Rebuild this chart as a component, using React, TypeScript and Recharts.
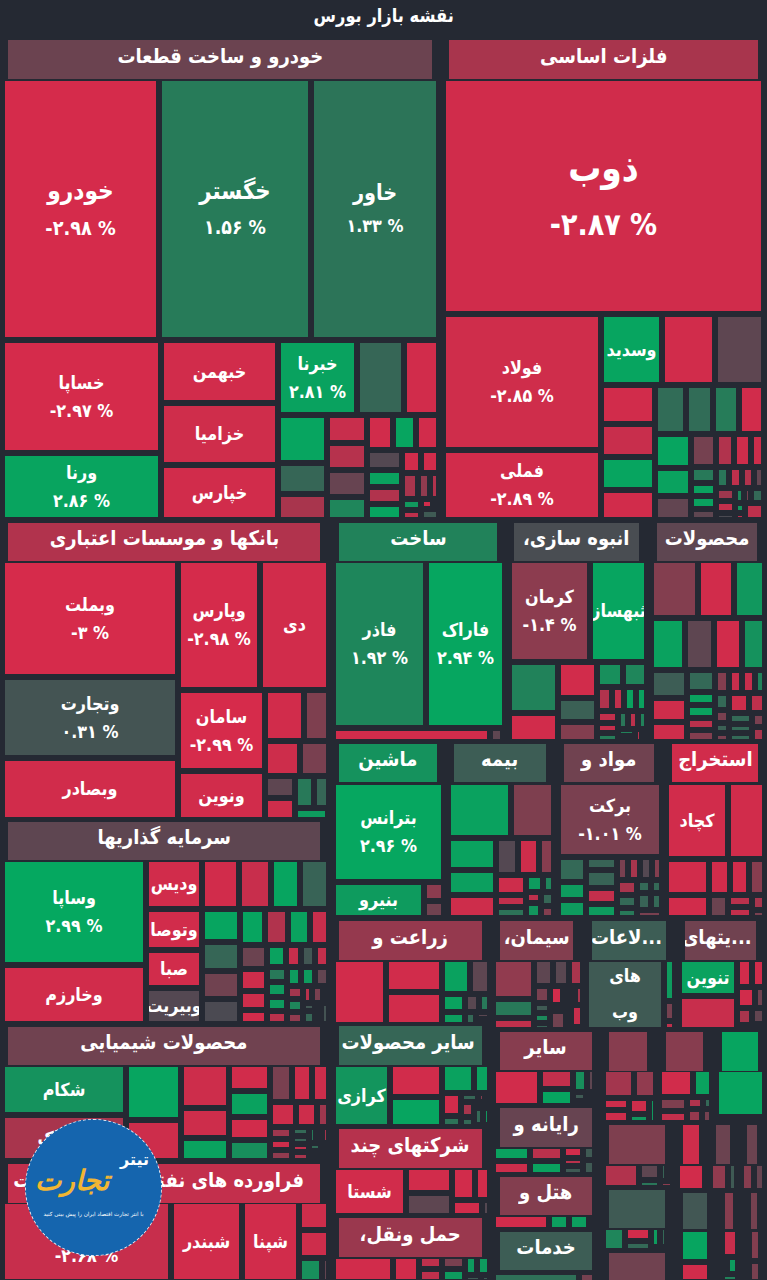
import React from 'react';
import { Treemap } from 'recharts';

const autoNames = ['خودرو', 'خگستر', 'خاور', 'خساپا', 'ورنا', 'خبهمن', 'خزامیا', 'خپارس', 'خبرنا'];
const autoValues = [41134, 39824, 33536, 17967, 10653, 7371, 7254, 6435, 5920, 3552, 2664, 2352, 1519, 1323, 1120, 1080, 1080, 960, 918, 816, 782, 714, 612, 612, 510, 441, 399, 425, 300, 250, 209, 180, 120, 60, 40];
const autoChanges = [-2.98, 1.56, 1.33, -2.97, 2.86, -2.9, -2.85, -2.9, 2.81, 0.9, -2.9, 2.9, 0.9, -2, -2.7, -2.3, -0.6, 1.9, -2.9, 2.9, -2.9, -0.2, 2.8, -2.2, 2.9, -2.9, -2.9, -2, -1.5, -2.2, 2.5, -2.5, -2.9, 1.2, 0.5];

const metalNames = ['ذوب', 'فولاد', 'فملی', 'وسدید'];
const metalValues = [75756, 21488, 11060, 4340, 3780, 3360, 2106, 1782, 1782, 1674, 1519, 1323, 1274, 1225, 1215, 990, 900, 810, 589, 558, 465, 403, 336, 315, 273, 273, 264, 242, 242, 242, 224, 154, 140, 112, 190, 100, 70, 50];
const metalChanges = [-2.87, -2.85, -2.89, 2.9, -2.9, -0.4, -2.9, -2.7, 2.9, -2.9, 1.1, 1.1, 1.6, -2.9, 2.9, 2.8, -0.5, -0.9, -2.2, -2.8, -2.8, 1.5, 2.8, 2.8, -0.4, 1.4, -2.5, -2.2, -0.5, -1.8, -2.6, 0, 2, -1, 1, 2.5, -2.5, -2.5];

const bankNames = ['وبملت', 'وتجارت', 'وبصادر', 'وپارس', 'دی', 'سامان', 'ونوین'];
const bankValues = [20592, 14256, 10912, 10707, 8901, 7047, 4350, 2000, 1250, 1225, 1050, 667, 667, 600, 480, 400, 120];
const bankChanges = [-3, 0.31, -2.9, -2.98, -2.9, -2.99, -2.9, -2.9, -1.1, -2.8, -1, -0.4, -2.8, 1.5, 0.9, 2.6, -2.4];

const investNames = ['وساپا', 'وخارزم', 'ودیس', 'وتوصا', 'صبا', 'وبیریت'];
const investValues = [15158, 8437, 2750, 2255, 2090, 2035, 1824, 1584, 1440, 1392, 1232, 1100, 1056, 924, 880, 805, 788, 735, 630, 594, 513, 405, 405, 324, 315, 336, 294, 294, 286, 264, 264, 264, 242, 210, 210, 170, 150, 182, 117, 100, 150, 130, 90];
const investChanges = [2.99, -2.9, -2.9, -2.9, -2.9, -0.2, -2.9, -2.7, 2.9, 0.8, 2.9, 0.9, -0.8, 0, 2.9, -2.2, 2.8, -2.7, -0.7, -2.8, -2.8, -2.9, 2.8, -2.7, 0.4, -2.6, 1.5, 2.6, 2.6, -2.4, 2.6, 2.6, -0.5, -1.9, 1.9, -1.5, -2.4, -1, 0.5, 0.4, 0.9, 1.5, 0.3];

const chemNames = ['شکام', 'شاراک'];
const chemValues = [6273, 5658, 3024, 2214, 2068, 1410, 1128, 1080, 1040, 920, 920, 816, 748, 680, 648, 513, 324, 270, 247, 209, 152, 133, 140, 130, 105, 100, 110, 90, 60, 60, 50, 50];
const chemChanges = [2.3, -2, 2.9, -2.8, -2.8, -2.8, 2.8, -2.9, 2.8, -2.9, 2.2, -1, -2.8, -2.8, -2.8, -2.8, -1.8, -1.8, -2.8, -1.5, 1, 0.8, -2.5, -2, 1.5, -2, -2, 1, -2.5, -2, -2, 1.5];

const oilNames = ['شبریز', 'شبندر', 'شپنا'];
const oilValues = [13608, 5670, 4617, 864, 832, 546, 150];
const oilChanges = [-2.68, -2.9, -2.9, -2.8, -2.8, 2.2, -0.5];

const buildNames = ['فاذر', 'فاراک'];
const buildValues = [15531, 13193, 2190, 180, 100];
const buildChanges = [1.92, 2.94, -2.9, -0.4, -0.5];

const massNames = ['کرمان', 'ثبهساز'];
const massValues = [8100, 5700, 2470, 1425, 1368, 912, 798, 638, 609, 348, 294, 273, 273, 252, 198, 198, 180, 180, 150, 120, 100, 90, 60];
const massChanges = [-1.4, 2.9, 1.8, -2.9, -2.9, 0.7, -1.2, 2.2, 1.9, -2.2, -2.6, 2.8, 2.8, -2.6, -2.7, 1.6, 1.4, -2.4, 1.8, 1.8, 2.8, -2.4, -2.5];

const productValues = [2726, 2088, 1798, 1768, 1508, 1456, 1196, 1008, 864, 720, 616, 364, 364, 336, 336, 322, 299, 299, 230, 238, 182, 140, 130, 400, 300, 250, 200, 220, 180, 100];
const productChanges = [-1.2, -2.9, 2.5, 2.8, -0.4, -2.9, 2.3, 0.6, -2.8, -2.8, 1, 2.8, 2.8, -2.4, -1.2, -1.2, -2.7, -2.7, 1.8, 1, -1, 0.7, -1, -2.8, -2.5, 1, 1, 1, -1, -2];

const machineNames = ['بترانس', 'بنیرو'];
const machineValues = [11100, 3276, 380, 340];
const machineChanges = [2.96, 2.6, -1.4, -0.8];

const insureValues = [3300, 2310, 1452, 1134, 1029, 756, 744, 496, 558, 341, 308, 266, 182, 154, 200, 170, 110];
const insureChanges = [2.8, -1.1, 2.8, 2.7, -2.8, -0.2, -2.8, -1.3, -2.8, -2.6, 1.3, 2.6, 1.9, -2.5, 2.4, 0.9, -1.2];

const materialNames = ['برکت'];
const materialValues = [7696, 680, 493, 544, 400, 560, 476, 448, 260, 266, 266, 247, 300, 250, 220, 180, 130, 240, 190, 150];
const materialChanges = [-1.01, 1, 2.6, 2.6, 0.8, 0.8, -2.6, 2.6, -1, -2, -0.2, -1.2, -2, 1, 1.5, 1, 1, 0.8, 1, -1];

const mineNames = ['کچاد'];
const mineValues = [4774, 2849, 1548, 989, 756, 684, 576, 450, 300, 250, 200, 150];
const mineChanges = [-2.9, -2.9, -2.9, -2.9, -2.9, -2.9, -1.3, -0.7, -2.4, -2.6, -2, -1];

const farmValues = [3400, 1815, 1815, 957, 693, 399, 294, 252, 180, 144, 100, 60];
const farmChanges = [-2.9, -2.9, -2.9, 2.8, -0.4, 2.8, 2.7, -0.3, 1.5, 1, -0.3, -0.3];

const cementValues = [1588, 754, 476, 490, 425, 362, 266, 154, 154, 120, 247, 120, 120, 120, 100, 280, 110, 260, 90];
const cementChanges = [-1.5, 1.5, -2.5, -0.4, -0.3, -2, -1, 0.5, 2, 0.8, -2.9, -1.2, -2, -2, -1.5, -0.8, -2, -2.7, -2];

const infoNames = ['های وب'];
const infoValues = [5467, 451, 220, 88];
const infoChanges = [0.5, 2.6, -0.9, -2.5];

const activityNames = ['تنوین'];
const activityValues = [2072, 1904, 398, 372, 361, 209, 240, 90, 200, 70];
const activityChanges = [2.8, -2.7, -2.9, -2.9, -2.9, -0.8, -2, 1.6, -0.5, -0.4];

const otherProductNames = ['کرازی'];
const otherProductValues = [3528, 1667, 1515, 910, 438, 428, 200, 150, 60, 50, 190, 130, 50, 40, 150, 120, 40];
const otherProductChanges = [2.4, -2.9, 2.9, 2.8, 2.8, -2.9, 1.3, 0.9, -1.2, -2, -2, 1, -2, -1, 1, 2.5, -2];

const holdingNames = ['شستا'];
const holdingValues = [3577, 1196, 1058, 768, 480, 476, 187];
const holdingChanges = [-2.9, -2.9, -0.4, -2.9, -2.9, -2.9, -0.2];

const transportValues = [1344, 576, 264, 264, 264, 264, 204, 204, 100, 60];
const transportChanges = [-2.9, -2.9, -2.5, -2.5, -1, 2.6, 2.6, 2.6, 0.5, 0.5];

const otherValues = [1720, 650, 552, 324, 180, 110, 70, 40, 70];
const otherChanges = [-2.9, -2.6, 2.9, 2.2, -0.4, 0.5, -2, 1, 1];

const computerValues = [555, 518, 495, 462, 247, 156, 170, 170, 170];
const computerChanges = [2.8, -2.8, -2.4, 2.8, -2.9, -2.4, 0.5, 0.5, 0.5];

const hotelValues = [896, 320, 320, 60, 40];
const hotelChanges = [-2.9, 2.7, 2.7, -2, -1];

const serviceValues = [1032, 192];
const serviceChanges = [1.2, -0.9];

const miniAValues = [868, 616, 312, 312, 304, 190, 180];
const miniAChanges = [-1.9, -1.5, -2.8, -2.8, -2.8, 2.5, 2.5];
const miniBValues = [891, 495, 363, 325, 182, 104, 200, 110];
const miniBChanges = [-2.9, 2.8, -1.1, -2.6, -2.2, 1, -1.6, -0.9];
const miniCValues = [2058];
const miniCChanges = [2.9];
const miniDValues = [800, 323, 136, 110, 95, 90];
const miniDChanges = [-2.2, -0.4, 1.4, 0.8, -0.9, -1.4];
const miniEValues = [784];
const miniEChanges = [-2.9];
const miniFValues = [532, 252];
const miniFChanges = [-1.5, 0.5];
const miniGValues = [392, 308];
const miniGChanges = [-1.3, -0.6];
const miniHValues = [504, 360, 240, 169, 143, 60];
const miniHChanges = [1.9, -2.9, 1, 2.6, 1, 1.5];
const miniIValues = [990, 600];
const miniIChanges = [2.9, -2.9];
const miniJValues = [528, 100, 224, 140];
const miniJChanges = [-2.7, 2, 2.6, 1.8];
const miniKValues = [396, 250];
const miniKChanges = [-1.2, -1];

const rows = (values: number[], changes: number[], names: string[] = []) =>
  values.map((value, i) => ({ name: names[i] ?? '', value, change: changes[i] }));

const FONT = "'DejaVu Sans', sans-serif";
const GAP = 3;
const BG = '#252933';
const SQUEEZE = 0.88;

const mix = (a: number[], b: number[], t: number) =>
  `rgb(${a.map((v, i) => Math.round(v + (b[i] - v) * t)).join(',')})`;
const colorOf = (c: number) =>
  c < 0
    ? mix([75, 74, 82], [214, 43, 75], Math.min(-c / 3, 1))
    : mix([75, 74, 82], [5, 168, 96], Math.min(c / 3, 1));

const FA = '۰۱۲۳۴۵۶۷۸۹';
const faNum = (c: number) => String(c).replace(/\d/g, (d) => FA[+d]);

const nameFont = (s: number) => {
  if (s < 150) return 16;
  if (s < 195) return 16 + ((s - 150) / 45) * 5.5;
  return Math.min(21.5 + ((s - 195) / 74) * 11.5, 33);
};
const pctFont = (s: number) => {
  if (s < 177) return 16;
  if (s < 195) return 16 + ((s - 177) / 18) * 1.5;
  return Math.min(17.5 + ((s - 195) / 74) * 9.5, 27);
};

const Label = ({ x, y, size, text, ltr }: any) => (
  <text
    transform={`translate(${x} ${y}) scale(${SQUEEZE} 1)`}
    textAnchor="middle"
    dominantBaseline="central"
    fill="#fff"
    fontFamily={FONT}
    fontWeight={700}
    fontSize={size / SQUEEZE}
    direction={ltr ? 'ltr' : 'rtl'}
    unicodeBidi={ltr ? 'bidi-override' : undefined}
  >
    {text}
  </text>
);

const Cell = (props: any) => {
  const { x, y, width, height, depth, name, change } = props;
  if (depth !== 1) return null;
  const w = width - GAP * 2;
  const h = height - GAP * 2;
  if (w <= 0 || h <= 0) return null;
  const s = Math.sqrt(w * h);
  const fs = nameFont(s);
  const showPct = !!name && h >= 60 && w >= 70 && !name.includes(' ');
  const cx = w / 2;
  const cy = h / 2;
  const off = fs * 0.87;
  const lines: string[] = name ? String(name).split(' ') : [];
  return (
    <svg x={x + GAP} y={y + GAP} width={w} height={h} style={{ overflow: 'hidden' }}>
      <rect x={0} y={0} width={w} height={h} fill={colorOf(change)} />
      {lines.map((l, i) => (
        <Label
          key={i}
          x={cx}
          y={lines.length > 1 ? cy - 1 + (i === 0 ? -18 : 18) : showPct ? cy - off : cy}
          size={fs}
          text={l}
        />
      ))}
      {showPct && <Label x={cx} y={cy + off} size={pctFont(s)} text={`${faNum(change)} %`} ltr />}
    </svg>
  );
};

type Panel = { title?: string; tone: number; head: number[]; box?: number[]; data?: any[] };

const panels: Panel[] = [
  { title: 'خودرو و ساخت قطعات', tone: -0.7, head: [8, 40, 424, 39], box: [2, 78, 437, 442], data: rows(autoValues, autoChanges, autoNames) },
  { title: 'فلزات اساسی', tone: -2, head: [449, 40, 309, 39], box: [443, 78, 321, 442], data: rows(metalValues, metalChanges, metalNames) },
  { title: 'بانکها و موسسات اعتباری', tone: -2.2, head: [8, 523, 312, 38], box: [2, 560, 327, 260], data: rows(bankValues, bankChanges, bankNames) },
  { title: 'سرمایه گذاریها', tone: -0.4, head: [8, 822, 312, 38], box: [2, 859, 327, 165], data: rows(investValues, investChanges, investNames) },
  { title: 'محصولات شیمیایی', tone: -0.8, head: [8, 1027, 312, 38], box: [2, 1064, 327, 97], data: rows(chemValues, chemChanges, chemNames) },
  { title: 'فراورده های نفتی، کک و سوخت', tone: -2.6, head: [8, 1164, 312, 39], box: [2, 1201, 327, 81], data: rows(oilValues, oilChanges, oilNames) },
  { title: 'ساخت', tone: 1.8, head: [339, 523, 158, 38], box: [333, 560, 172, 182], data: rows(buildValues, buildChanges, buildNames) },
  { title: 'انبوه سازی،', tone: 0.1, head: [514, 523, 125, 38], box: [509, 560, 138, 182], data: rows(massValues, massChanges, massNames) },
  { title: 'محصولات', tone: -0.4, head: [657, 523, 100, 38], box: [651, 560, 114, 182], data: rows(productValues, productChanges) },
  { title: 'ماشین', tone: 2.3, head: [339, 744, 98, 38], box: [333, 782, 111, 136], data: rows(machineValues, machineChanges, machineNames) },
  { title: 'بیمه', tone: 0.6, head: [454, 744, 92, 38], box: [448, 782, 106, 136], data: rows(insureValues, insureChanges) },
  { title: 'مواد و', tone: -0.8, head: [564, 744, 90, 38], box: [558, 782, 104, 136], data: rows(materialValues, materialChanges, materialNames) },
  { title: 'استخراج', tone: -2.9, head: [672, 744, 86, 38], box: [666, 782, 99, 136], data: rows(mineValues, mineChanges, mineNames) },
  { title: 'زراعت و', tone: -1.6, head: [339, 921, 143, 39], box: [333, 959, 157, 66], data: rows(farmValues, farmChanges) },
  { title: 'سیمان،', tone: -1.2, head: [500, 921, 73, 39], box: [493, 959, 90, 71], data: rows(cementValues, cementChanges) },
  { title: '...لاعات', tone: 0.6, head: [592, 921, 74, 39], box: [586, 959, 89, 71], data: rows(infoValues, infoChanges, infoNames) },
  { title: '...یتهای', tone: -0.8, head: [685, 921, 71, 39], box: [679, 959, 86, 71], data: rows(activityValues, activityChanges, activityNames) },
  { title: 'سایر محصولات', tone: 0.9, head: [339, 1026, 143, 39], box: [333, 1064, 157, 63], data: rows(otherProductValues, otherProductChanges, otherProductNames) },
  { title: 'شرکتهای چند', tone: -2.3, head: [339, 1129, 143, 39], box: [333, 1167, 157, 49], data: rows(holdingValues, holdingChanges, holdingNames) },
  { title: 'حمل ونقل،', tone: -1.7, head: [339, 1218, 143, 39], box: [333, 1256, 157, 26], data: rows(transportValues, transportChanges) },
  { title: 'سایر', tone: -1.3, head: [500, 1032, 92, 38], box: [493, 1069, 102, 37], data: rows(otherValues, otherChanges) },
  { title: 'رایانه و', tone: -0.6, head: [500, 1108, 92, 39], box: [493, 1146, 102, 29], data: rows(computerValues, computerChanges) },
  { title: 'هتل و', tone: -1.2, head: [500, 1177, 92, 38], box: [493, 1214, 102, 16], data: rows(hotelValues, hotelChanges) },
  { title: 'خدمات', tone: 0.6, head: [500, 1232, 92, 38], box: [493, 1270, 102, 12], data: rows(serviceValues, serviceChanges) },
  { tone: -1.3, head: [609, 1032, 38, 39], box: [603, 1069, 53, 54], data: rows(miniAValues, miniAChanges) },
  { tone: -1.3, head: [666, 1032, 37, 39], box: [659, 1069, 53, 54], data: rows(miniBValues, miniBChanges) },
  { tone: 2.9, head: [722, 1032, 36, 39], box: [716, 1069, 49, 48], data: rows(miniCValues, miniCChanges) },
  { tone: -1.1, head: [609, 1125, 56, 39], box: [603, 1163, 70, 25], data: rows(miniDValues, miniDChanges) },
  { tone: -2.8, head: [683, 1125, 16, 39], box: [677, 1163, 28, 28], data: rows(miniEValues, miniEChanges) },
  { tone: -0.7, head: [716, 1125, 14, 39], box: [710, 1163, 27, 28], data: rows(miniFValues, miniFChanges) },
  { tone: -0.7, head: [747, 1125, 10, 39], box: [741, 1163, 24, 28], data: rows(miniGValues, miniGChanges) },
  { tone: 0.5, head: [609, 1190, 56, 38], box: [603, 1227, 64, 24], data: rows(miniHValues, miniHChanges) },
  { tone: 0.4, head: [683, 1193, 24, 36], box: [680, 1229, 30, 53], data: rows(miniIValues, miniIChanges) },
  { tone: -1.3, head: [725, 1193, 8, 36], box: [722, 1229, 16, 53], data: rows(miniJValues, miniJChanges) },
  { tone: -0.9, head: [751, 1193, 6, 36], box: [749, 1229, 12, 53], data: rows(miniKValues, miniKChanges) },
  { tone: -0.8, head: [609, 1253, 56, 27] },
];

const abs = (x: number, y: number, w: number, h: number): React.CSSProperties => ({
  position: 'absolute', left: x, top: y, width: w, height: h,
});

const Logo = () => (
  <div style={{ ...abs(25, 1119, 137, 137), borderRadius: '50%', background: '#1565ae', border: '1px dashed #dfe8f2', boxSizing: 'border-box', overflow: 'hidden', fontFamily: FONT, direction: 'rtl' }}>
    <div style={{ position: 'absolute', left: 94, top: 30, color: '#fff', fontSize: 16, fontWeight: 700 }}>تیتر</div>
    <div style={{ position: 'absolute', left: 9, top: 44, color: '#f2b632', fontSize: 28, fontWeight: 700, whiteSpace: 'nowrap', fontStyle: 'italic' }}>تجارت</div>
    <div style={{ position: 'absolute', left: 0, right: 0, top: 91, textAlign: 'center', color: '#fff', fontSize: 5.6, whiteSpace: 'nowrap' }}>
      با انتر تجارت اقتصاد ایران را پیش بینی کنید
    </div>
  </div>
);

export default function App() {
  return (
    <div style={{ ...abs(0, 0, 767, 1280), background: BG, overflow: 'hidden' }}>
      <div style={{ ...abs(0, 2, 767, 28), textAlign: 'center', color: '#fff', fontFamily: FONT, fontWeight: 700, fontSize: 18.5, lineHeight: '28px', direction: 'rtl' }}>
        <span style={{ display: 'inline-block', transform: 'scaleX(0.88)' }}>نقشه بازار بورس</span>
      </div>
      {panels.map((p, i) => (
        <React.Fragment key={i}>
          <div style={{ ...abs(p.head[0], p.head[1], p.head[2], p.head[3]), background: colorOf(p.tone), color: '#fff', fontFamily: FONT, fontWeight: 700, fontSize: 20, lineHeight: `${p.head[3] - 7}px`, textAlign: 'center', whiteSpace: 'nowrap', overflow: 'hidden', direction: 'rtl' }}>
            {p.title ? <span style={{ display: 'inline-block', transform: 'scaleX(0.9)' }}>{p.title}</span> : null}
          </div>
          {p.box && p.data && (
            <div style={abs(p.box[0], p.box[1], p.box[2], p.box[3])}>
              <Treemap width={p.box[2]} height={p.box[3]} data={p.data} dataKey="value" nameKey="name" type="flat" aspectRatio={1.618} isAnimationActive={false} content={<Cell />} />
            </div>
          )}
        </React.Fragment>
      ))}
      <Logo />
    </div>
  );
}
